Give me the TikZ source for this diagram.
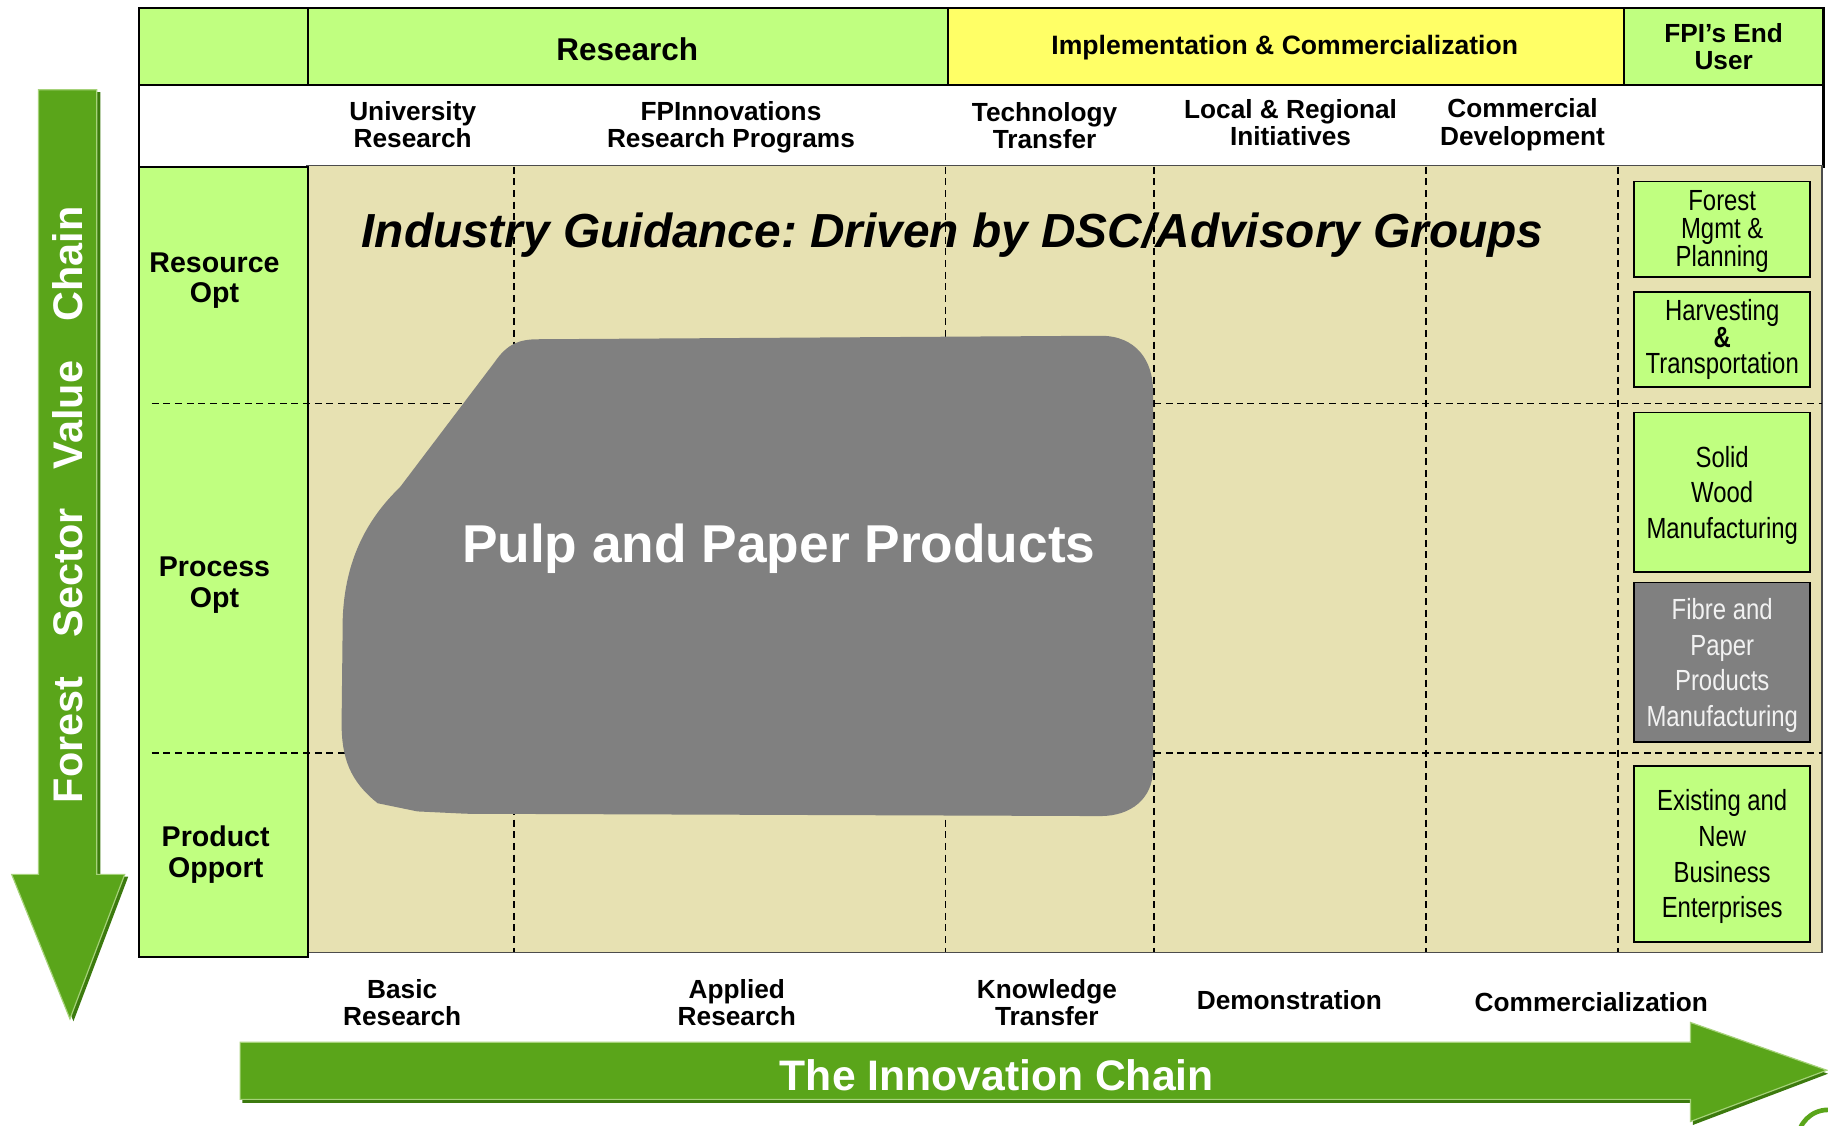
\documentclass[tikz,border=0pt]{standalone}
\usepackage{fontspec}
\setmainfont{Liberation Sans}
\newfontfamily\narrowfont[FakeStretch=0.82]{Liberation Sans}

\definecolor{lgreen}{HTML}{C0FF80}
\definecolor{hyellow}{HTML}{FFFF66}
\definecolor{beige}{HTML}{E7E1B2}
\definecolor{blobgrey}{HTML}{808080}
\definecolor{agreen}{HTML}{5AA51A}
\definecolor{dgreen}{HTML}{3C7A0E}
\definecolor{edgegreen}{HTML}{A6D27A}

\tikzset{
    cell/.style={draw=black, line width=2pt, anchor=north west, inner sep=0pt},
    lbl/.style={font=\fontsize{22.5}{23.5}\selectfont\bfseries, align=center, inner sep=0pt},
    rowlbl/.style={font=\fontsize{24.5}{26}\selectfont\bfseries, align=center, inner sep=0pt},
    userbox/.style={draw=black, line width=1.5pt, fill=lgreen, minimum width=151pt, anchor=north west,
        align=center, inner sep=0pt},
    gridline/.style={dash pattern=on 6pt off 4pt, line width=1.2pt},
    bigarrow/.style={fill=agreen, draw=edgegreen, line width=1pt},
}

\begin{document}
\begin{tikzpicture}[x=1pt, y=-1pt]
            \useasboundingbox (0,0) rectangle (1568,965);
            % header rows
            \node[cell, fill=lgreen, minimum width=145pt, minimum height=66pt] (corner) at (118,6) {};
            \node[cell, fill=lgreen, minimum width=549pt, minimum height=66pt] (research) at (263,6) {};
            \node[font=\fontsize{27}{28}\selectfont\bfseries, inner sep=0pt] (researchtxt) at (538,42) {Research};
            \node[cell, fill=hyellow, minimum width=580pt, minimum height=66pt] (impl) at (812,6) {};
            \node[font=\fontsize{22.8}{24}\selectfont\bfseries, inner sep=0pt] (impltxt) at (1102,41) {Implementation \& Commercialization};
            \node[cell, fill=lgreen, minimum width=171pt, minimum height=66pt, lbl] (enduser) at (1392,6) {FPI’s End\\User};
            \node[cell, fill=white, minimum width=1445pt, minimum height=70pt] (stages) at (118,72) {};
            \node[lbl] (univ) at (354,107) {University\\Research};
            \node[lbl] (fpi) at (627,109) {FPInnovations\\Research Programs};
            \node[lbl] (techtr) at (896,108) {Technology\\Transfer};
            \node[lbl] (local) at (1107,105) {Local \& Regional\\Initiatives};
            \node[lbl] (commdev) at (1306,107) {Commercial\\Development};

            % body
            \draw[fill=beige, draw=black!70, line width=1.5pt] (263,142) rectangle (1563,817);
            \node[cell, fill=lgreen, minimum width=145pt, minimum height=678pt] (rows) at (118,142) {};
            \node[rowlbl] (resopt) at (184,241) {Resource\\Opt};
            \node[rowlbl] (procopt) at (184,502) {Process\\Opt};
            \node[rowlbl] (prodopp) at (185,733) {Product\\Opport};
            \node[font=\fontsize{41}{43}\selectfont\bfseries\itshape\frenchspacing, inner sep=0pt] (guide) at (817,202)
                {Industry Guidance: Driven by DSC/Advisory Groups};

            % dashed grid
            \foreach \y in {346,646}
                \draw[gridline] (130,\y) -- (1563,\y);
            \foreach \x in {441,811,990,1223,1388}
                \draw[gridline] (\x,143) -- (\x,817);

            % pulp and paper block
            \fill[blobgrey] (462,291) -- (944,288) .. controls (975,288) and (989,310) .. (989,335)
                -- (989,660) .. controls (989,685) and (970,700) .. (944,700) -- (400,698) -- (358,696)
                -- (324,689) .. controls (300,670) and (293,650) .. (293,620) -- (294,530)
                .. controls (296,480) and (315,445) .. (343,418) -- (424,311)
                .. controls (435,295) and (445,291) .. (462,291) -- cycle;
            \node[text=white, font=\fontsize{45.7}{48}\selectfont\bfseries, inner sep=0pt] (pulp) at (668,471) {Pulp and Paper Products};

            % end user boxes
            \node[userbox, minimum height=82pt, font=\narrowfont\fontsize{25}{24}\selectfont, text depth=1pt] (forest) at (1401,155)
                {Forest\\Mgmt \&\\Planning};
            \node[userbox, minimum height=81pt, font=\narrowfont\fontsize{25}{23}\selectfont] (harvest) at (1401,250)
                {Harvesting\\\textbf{\&}\\Transportation};
            \node[userbox, minimum height=137pt, font=\narrowfont\fontsize{25}{30.5}\selectfont, text depth=0pt] (solid) at (1401,353)
                {Solid\\Wood\\Manufacturing};
            \node[userbox, fill=blobgrey, text=black!5, minimum height=137pt, font=\narrowfont\fontsize{25}{30.5}\selectfont, text depth=0pt] (fibre) at (1401,499)
                {Fibre and\\Paper\\Products\\Manufacturing};
            \node[userbox, minimum height=151pt, font=\narrowfont\fontsize{25}{30.5}\selectfont, text depth=0pt] (business) at (1401,656)
                {Existing and\\New\\Business\\Enterprises};

            % innovation stages
            \node[lbl] (basic) at (345,860) {Basic\\Research};
            \node[lbl] (applied) at (632,860) {Applied\\Research};
            \node[lbl] (knowtr) at (898,860) {Knowledge\\Transfer};
            \node[lbl] (demo) at (1106,858) {Demonstration};
            \node[lbl] (commz) at (1365,860) {Commercialization};

            % arrows
            \fill[dgreen] (208,897) -- (1452,897) -- (1452,880) -- (1568,921) -- (1452,965) -- (1452,946) -- (208,946) -- cycle;
            \draw[bigarrow] (206,894) -- (1450,894) -- (1450,877) -- (1567,918) -- (1450,962) -- (1450,943) -- (206,943) -- cycle;
            \node[text=white, font=\fontsize{36.6}{38}\selectfont\bfseries, inner sep=0pt] (innov) at (855,922) {The Innovation Chain};
            \fill[dgreen] (36,79) -- (86,79) -- (86,752) -- (110,752) -- (63,876) -- (13,752) -- (36,752) -- cycle;
            \draw[bigarrow] (33,77) -- (83,77) -- (83,750) -- (107,750) -- (60,874) -- (10,750) -- (33,750) -- cycle;
            \node[text=white, font=\fontsize{35.5}{37}\selectfont\bfseries, rotate=90, inner sep=0pt] (valuechain) at (58,433)
                {Forest\hspace{24pt} Sector\hspace{24pt} Value\hspace{24pt} Chain};

            % logo edge
            \draw[agreen, line width=4pt] (1568,978) circle (26pt);
        \end{tikzpicture}
\end{document}
